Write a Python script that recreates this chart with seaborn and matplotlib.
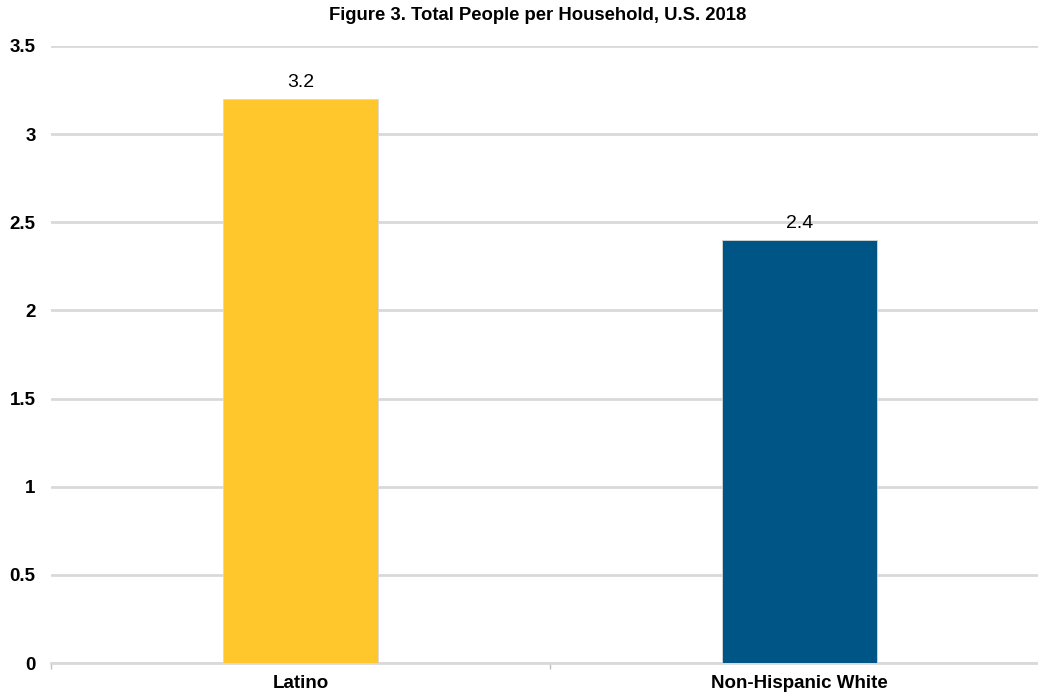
import matplotlib
matplotlib.use("Agg")
import matplotlib.pyplot as plt
import seaborn as sns
import pandas as pd

categories = ["Latino", "Non-Hispanic White"]
values = [3.2, 2.4]
colors = ["#FFC72C", "#005587"]
yticks = [0, 0.5, 1, 1.5, 2, 2.5, 3, 3.5]
ytick_labels = ["0", "0.5", "1", "1.5", "2", "2.5", "3", "3.5"]
title = "Figure 3. Total People per Household, U.S. 2018"

sns.set_theme(style="white")
plt.rcParams["font.family"] = ["Liberation Sans", "DejaVu Sans"]

df = pd.DataFrame({"group": categories, "value": values})

fig = plt.figure(figsize=(10.38, 6.92), dpi=100)
ax = fig.add_axes([51 / 1038, (692 - 663) / 692, (1038 - 51) / 1038, (663 - 46) / 692])

sns.barplot(data=df, x="group", y="value", hue="group", palette=colors, saturation=1,
            width=0.312, edgecolor="#d8d8d8", linewidth=0.6, legend=False, ax=ax, zorder=3)

ax.set_ylim(0, 3.5)
ax.set_xlim(-0.5, 1.478)
ax.set_yticks(yticks)
ax.set_yticklabels(ytick_labels, fontsize=13.5, fontweight="bold", color="black")
ax.yaxis.grid(True, color="#d9d9d9", linewidth=2, zorder=0)
ax.xaxis.grid(False)
ax.set_axisbelow(True)
for s in ["top", "right", "left"]:
    ax.spines[s].set_visible(False)
ax.spines["bottom"].set_color("#d9d9d9")
ax.spines["bottom"].set_linewidth(2)
ax.tick_params(axis="y", length=0, pad=11)
ax.tick_params(axis="x", which="major", length=0, pad=9)
ax.set_xticks([-0.5, 0.5], minor=True)
ax.tick_params(axis="x", which="minor", bottom=True, length=4, width=1, color="#bfbfbf")
for lbl in ax.get_xticklabels():
    lbl.set_fontsize(13.5)
    lbl.set_fontweight("bold")
    lbl.set_color("black")
ax.set_xlabel("")
ax.set_ylabel("")

for cont in ax.containers:
    ax.bar_label(cont, labels=[f"{v:.1f}" for v in cont.datavalues], padding=6, fontsize=14, color="black")

fig.suptitle(title, x=538 / 1038, y=1 - 7 / 692, va="top", fontsize=13.3, fontweight="bold", color="black")

fig.savefig("out.png", dpi=100)
